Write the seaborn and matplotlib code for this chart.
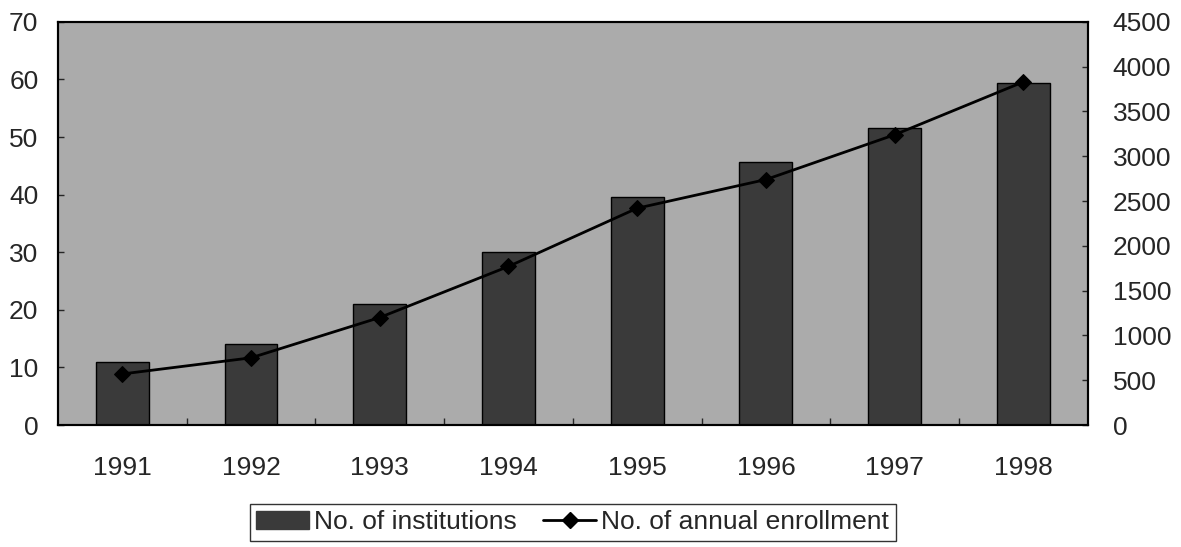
import numpy as np
import pandas as pd
import matplotlib
matplotlib.use("Agg")
import matplotlib.pyplot as plt
import seaborn as sns
from matplotlib.lines import Line2D
from matplotlib.patches import Patch

years = ["1991", "1992", "1993", "1994", "1995", "1996", "1997", "1998"]
institutions = [11, 14, 21, 30, 39.6, 45.6, 51.6, 59.4]
enrollment = [570, 750, 1200, 1770, 2420, 2740, 3240, 3830]

df = pd.DataFrame({"year": years, "inst": institutions, "enr": enrollment})

sns.set_style("ticks")
plt.rcParams["font.family"] = ["Liberation Sans", "DejaVu Sans"]

fig = plt.figure(figsize=(11.81, 5.47), dpi=100)
ax = fig.add_axes([0.049, 0.223, 0.872, 0.737])
ax.set_facecolor("#ababab")

sns.barplot(data=df, x="year", y="inst", color="#3a3a3a", width=0.41,
            edgecolor="black", linewidth=1, saturation=1, ax=ax)
ax.set_xlim(-0.5, 7.5)
ax.set_ylim(0, 70)
ax.set_yticks(np.arange(0, 71, 10))
ax.set_xlabel("")
ax.set_ylabel("")

ax2 = ax.twinx()
sns.lineplot(x=np.arange(len(years)), y=df["enr"], color="black", marker="D",
             markersize=8, markeredgecolor="black", linewidth=2, ax=ax2)
ax2.set_ylim(0, 4500)
ax2.set_yticks(np.arange(0, 4501, 500))
ax2.set_ylabel("")

for a in (ax, ax2):
    for s in a.spines.values():
        s.set_color("black")
        s.set_linewidth(1.5)
    a.tick_params(axis="y", direction="in", length=4, width=1, labelsize=19)
ax.tick_params(axis="y", pad=14)
ax2.tick_params(axis="y", pad=18)

ax.tick_params(axis="x", length=0, labelsize=19, pad=22)
ax.set_xticks(np.arange(0.5, 7, 1), minor=True)
ax.tick_params(axis="x", which="minor", direction="in", length=5, width=1)

handles = [Patch(facecolor="#3a3a3a", edgecolor="#3a3a3a", label="No. of institutions"),
           Line2D([0], [0], color="black", marker="D", markersize=8,
                  markeredgecolor="black", linewidth=2,
                  label="No. of annual enrollment")]
leg = fig.legend(handles=handles, loc="center", bbox_to_anchor=(0.485, 0.045), ncol=2,
                 frameon=True, fancybox=False, edgecolor="black", fontsize=19,
                 handlelength=2.0, handletextpad=0.2, columnspacing=1.0,
                 borderpad=0.25)
leg.get_frame().set_linewidth(1)

fig.savefig("out.png", dpi=100)
